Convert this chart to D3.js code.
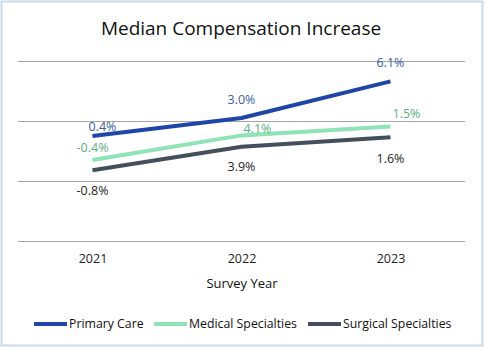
<!DOCTYPE html>
<html>
<head>
<meta charset="utf-8">
<script src="https://cdn.jsdelivr.net/npm/d3@7"></script>
<style>
  body { margin: 0; background: #fff; }
  svg { display: block; font-family: "Open Sans", sans-serif; }
</style>
</head>
<body>
<div id="chart"></div>
<script>
const years = ["2021", "2022", "2023"];
const seriesNames = ["Primary Care", "Medical Specialties", "Surgical Specialties"];
// plotted level (cumulative index)
const primaryCare = [17.5, 20.5, 26.6];
const medicalSpec = [13.5, 17.6, 19.1];
const surgicalSpec = [11.8, 15.7, 17.3];
// the percentages printed next to the points
const primaryLabels = ["0.4%", "3.0%", "6.1%"];
const medicalLabels = ["-0.4%", "4.1%", "1.5%"];
const surgicalLabels = ["-0.8%", "3.9%", "1.6%"];
const gridTicks = [0, 10, 20, 30];

const width = 487, height = 350;
const lineColors = ["#1f45a8", "#8ee3b7", "#444f5d"];
const labelColors = ["#3d5d9e", "#5bb083", "#262626"];

const series = [
  { name: seriesNames[0], values: primaryCare, labels: primaryLabels },
  { name: seriesNames[1], values: medicalSpec, labels: medicalLabels },
  { name: seriesNames[2], values: surgicalSpec, labels: surgicalLabels },
];

// label offsets relative to each point [dx, dy]
const labelOffsets = [
  [[10, -9], [0, -18], [0, -19]],
  [[0, -12], [16, -7], [16, -13]],
  [[0, 20], [0, 20], [0, 21]],
];

const svg = d3.select("#chart").append("svg")
  .attr("width", width)
  .attr("height", height);

svg.append("rect")
  .attr("x", 1.5).attr("y", 1.5)
  .attr("width", 481).attr("height", 344)
  .attr("fill", "#fff")
  .attr("stroke", "#c9d9ea")
  .attr("stroke-width", 2);

const x = d3.scalePoint(years, [18, 465]).padding(0.5);
const y = d3.scaleLinear([0, 30], [241, 61]);

svg.append("text")
  .attr("x", 241).attr("y", 35)
  .attr("text-anchor", "middle")
  .attr("font-size", 19)
  .attr("fill", "#111")
  .text("Median Compensation Increase");

svg.append("g")
  .selectAll("line")
  .data(gridTicks)
  .join("line")
  .attr("x1", 18).attr("x2", 465)
  .attr("y1", d => Math.round(y(d)) + 0.5)
  .attr("y2", d => Math.round(y(d)) + 0.5)
  .attr("stroke", "#a6a6a6")
  .attr("stroke-width", 1);

const xAxis = svg.append("g")
  .attr("transform", "translate(0,241)")
  .call(d3.axisBottom(x).tickSize(0).tickPadding(13));
xAxis.select(".domain").remove();
xAxis.selectAll("text")
  .attr("font-size", 12.5)
  .attr("font-family", "Open Sans, sans-serif")
  .attr("fill", "#222");

svg.append("text")
  .attr("x", 242).attr("y", 288)
  .attr("text-anchor", "middle")
  .attr("font-size", 13)
  .attr("fill", "#111")
  .text("Survey Year");

const line = d3.line()
  .x((d, i) => x(years[i]))
  .y(d => y(d));

svg.append("g")
  .selectAll("path")
  .data(series)
  .join("path")
  .attr("d", d => line(d.values))
  .attr("fill", "none")
  .attr("stroke", (d, i) => lineColors[i])
  .attr("stroke-width", 4)
  .attr("stroke-linejoin", "round");

series.forEach((s, si) => {
  svg.append("g")
    .selectAll("text")
    .data(s.values)
    .join("text")
    .attr("x", (d, i) => x(years[i]) + labelOffsets[si][i][0])
    .attr("y", (d, i) => y(d) + labelOffsets[si][i][1])
    .attr("dy", "0.35em")
    .attr("text-anchor", "middle")
    .attr("font-size", 12.5)
    .attr("fill", labelColors[si])
    .text((d, i) => s.labels[i]);
});

// legend
const legendX = [34, 154, 308];
const legend = svg.append("g")
  .selectAll("g")
  .data(series)
  .join("g")
  .attr("transform", (d, i) => `translate(${legendX[i]},324)`);

legend.append("line")
  .attr("x1", 0).attr("x2", 33)
  .attr("stroke", (d, i) => lineColors[i])
  .attr("stroke-width", 4);

legend.append("text")
  .attr("x", 35)
  .attr("dy", "0.35em")
  .attr("font-size", 12.3)
  .attr("fill", "#111")
  .text(d => d.name);
</script>
</body>
</html>
